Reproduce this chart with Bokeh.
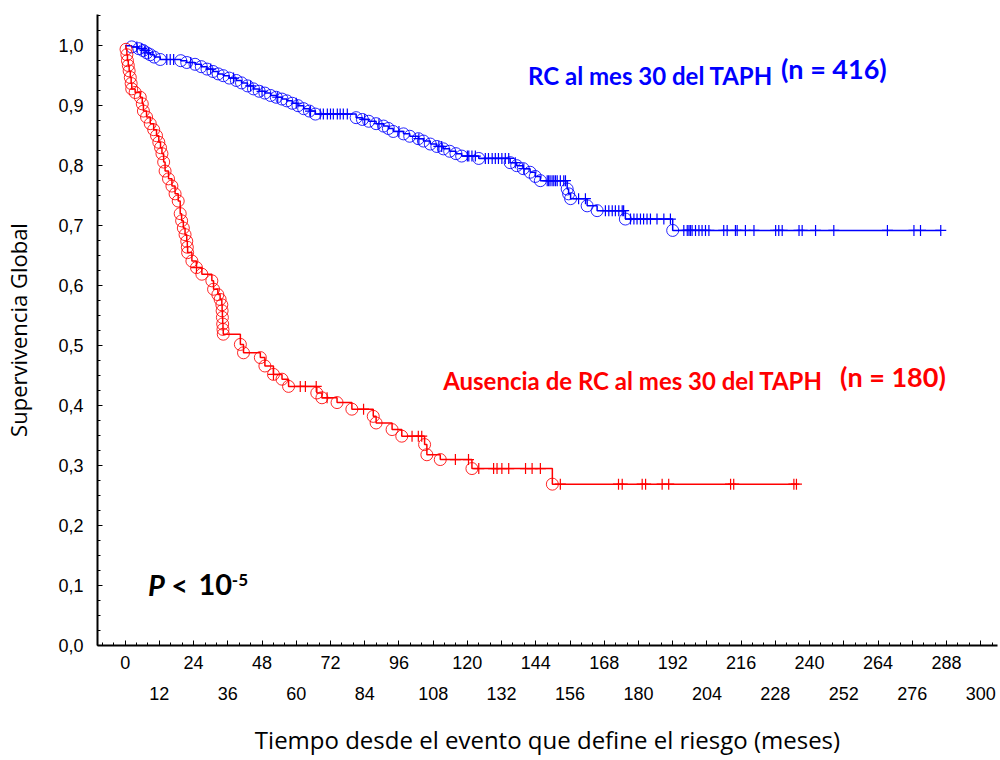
import bisect
from bokeh.plotting import figure
from bokeh.models import FixedTicker, LinearAxis, Label, Range1d
from bokeh.embed import file_html
from bokeh.resources import INLINE

# ---------------- data ----------------
blue_event_t = [2.3, 4.8, 6.3, 7.6, 8.8, 10.2, 12.3, 19.5, 21.6, 24.5, 26.7, 28.7, 30.8, 32.6, 34.4,
                36.5, 39.0, 40.8, 42.9, 45.0, 47.0, 49.0, 51.0, 53.0, 55.0, 56.7, 58.6, 60.6, 62.6,
                64.6, 66.7, 81.0, 83.2, 85.4, 88.0, 90.6, 92.3, 94.0, 97.6, 99.8, 102.8, 104.6, 107.0,
                109.3, 111.6, 113.8, 116.0, 118.0, 124.0, 135.0, 137.3, 139.6, 142.0, 143.8, 145.6,
                155.0, 155.5, 156.2, 162.0, 165.5, 175.4, 192.0]
blue_event_s = [0.998, 0.995, 0.992, 0.988, 0.985, 0.981, 0.977, 0.975, 0.972, 0.969, 0.965, 0.961,
                0.957, 0.953, 0.950, 0.946, 0.942, 0.938, 0.933, 0.928, 0.924, 0.921, 0.917, 0.914,
                0.911, 0.908, 0.904, 0.900, 0.895, 0.891, 0.886, 0.880, 0.877, 0.874, 0.870, 0.866,
                0.862, 0.857, 0.853, 0.849, 0.845, 0.841, 0.836, 0.832, 0.828, 0.824, 0.820, 0.816,
                0.812, 0.805, 0.800, 0.795, 0.789, 0.782, 0.775, 0.761, 0.753, 0.745, 0.733, 0.725,
                0.711, 0.692]
blue_cens_t = [4.1, 5.8, 7.0, 8.2, 14.6, 15.8, 17.0, 23.0, 30.0, 38.0, 44.0, 48.0, 53.5, 60.0, 65.0,
               68.4, 69.5, 70.9, 72.0, 73.0, 74.4, 75.4, 76.5, 77.9, 84.0, 89.0, 96.0, 103.0, 110.0,
               111.0, 120.0, 120.5, 121.6, 122.8, 126.3, 127.4, 128.7, 129.8, 130.9, 132.1, 133.3,
               134.5, 136.8, 139.8, 148.0, 148.5, 149.0, 149.7, 150.3, 150.9, 151.5, 152.6, 153.8,
               154.4, 159.0, 161.4, 168.4, 169.6, 170.8, 171.9, 173.1, 174.3, 174.8, 177.2, 178.4,
               179.5, 180.7, 181.8, 183.0, 184.2, 186.5, 188.9, 191.2, 195.9, 197.1, 197.7, 198.2,
               198.8, 200.0, 201.2, 202.3, 203.5, 204.7, 209.9, 211.1, 214.0, 214.6, 217.5, 220.5,
               228.1, 229.2, 230.4, 236.3, 237.4, 242.1, 248.5, 267.3, 276.6, 278.9, 286.0]

red_event_t = [0.3, 0.6, 0.8, 1.1, 1.4, 1.8, 2.1, 2.3, 3.5, 5.3, 6.0, 6.4, 7.5, 8.8, 10.0, 11.0, 11.8,
               12.4, 12.9, 13.5, 14.0, 15.2, 16.4, 17.5, 18.6, 19.3, 19.8, 20.4, 21.0, 21.6, 21.8,
               21.9, 23.4, 25.0, 26.9, 30.4, 31.0, 32.5, 33.3, 33.9, 34.0, 34.1, 34.2, 34.3, 34.4,
               40.4, 41.5, 47.4, 49.0, 52.0, 55.0, 57.3, 67.2, 69.0, 74.3, 79.5, 87.0, 88.0, 93.6,
               97.0, 105.0, 105.8, 110.5, 121.6, 149.8]
red_event_s = [0.994, 0.985, 0.975, 0.967, 0.958, 0.947, 0.937, 0.928, 0.922, 0.914, 0.903, 0.891,
               0.881, 0.870, 0.860, 0.850, 0.839, 0.830, 0.820, 0.806, 0.791, 0.778, 0.766, 0.753,
               0.741, 0.720, 0.708, 0.696, 0.685, 0.674, 0.664, 0.655, 0.641, 0.630, 0.619, 0.608,
               0.594, 0.585, 0.577, 0.568, 0.558, 0.547, 0.536, 0.527, 0.519, 0.502, 0.488, 0.480,
               0.466, 0.452, 0.444, 0.432, 0.421, 0.413, 0.405, 0.394, 0.382, 0.371, 0.360, 0.349,
               0.335, 0.318, 0.310, 0.295, 0.269]
red_cens_t = [25.0, 52.0, 61.4, 63.2, 67.0, 70.8, 83.6, 100.6, 102.8, 104.0, 115.8, 120.4, 124.0,
              129.2, 130.4, 132.1, 134.5, 140.4, 142.7, 145.6, 152.6, 173.0, 174.3, 181.3, 182.5,
              188.3, 190.6, 212.3, 213.4, 234.5, 235.4]

x_ticks = list(range(0, 301, 12))
x_ticks_top = x_ticks[0::2]
x_ticks_bottom = x_ticks[1::2]
x_minor = list(range(-8, 305, 4))
y_ticks = [0.0, 0.1, 0.2, 0.3, 0.4, 0.5, 0.6, 0.7, 0.8, 0.9, 1.0]
y_labels = ["0,0", "0,1", "0,2", "0,3", "0,4", "0,5", "0,6", "0,7", "0,8", "0,9", "1,0"]
y_minor = [i * 0.025 for i in range(0, 43)]

BLUE = "#0000ff"
RED = "#ff0000"


def surv_at(ev_t, ev_s, t):
    i = bisect.bisect_right(ev_t, t)
    return 1.0 if i == 0 else ev_s[i - 1]


def step_xy(ev_t, ev_s, cens_t):
    end = max(max(cens_t), ev_t[-1])
    return [0.0] + ev_t + [end], [1.0] + ev_s + [ev_s[-1]]


# ---------------- figure ----------------
p = figure(width=1000, height=760, output_backend="svg", toolbar_location=None,
           x_range=Range1d(-9.7, 305.9), y_range=Range1d(0.0, 1.052),
           min_border_left=97, min_border_right=3, min_border_top=14, min_border_bottom=115,
           background_fill_color="white", border_fill_color="white")
p.outline_line_color = None
p.grid.visible = False

for ev_t, ev_s, cens_t, col in [(blue_event_t, blue_event_s, blue_cens_t, BLUE),
                                (red_event_t, red_event_s, red_cens_t, RED)]:
    sx, sy = step_xy(ev_t, ev_s, cens_t)
    p.step(sx, sy, mode="after", line_color=col, line_width=1.5)
    cy = [surv_at(ev_t, ev_s, t) for t in cens_t]
    p.scatter(cens_t, cy, marker="cross", size=11, line_color=col, line_width=1.2)
    p.scatter(ev_t, ev_s, marker="circle", size=12, line_color=col, line_width=1,
              fill_color=None, line_alpha=0.85)

# y axis
ya = p.yaxis[0]
ya.ticker = FixedTicker(ticks=y_ticks, minor_ticks=y_minor)
ya.major_label_overrides = {t: l for t, l in zip(y_ticks, y_labels)}
ya.axis_label = "Supervivencia Global"
ya.axis_label_text_font = "Open Sans"
ya.axis_label_text_font_size = "22px"
ya.axis_label_text_font_style = "normal"
ya.axis_label_text_color = "black"
ya.axis_label_standoff = 22
ya.major_label_text_font = "Liberation Sans"
ya.major_label_text_font_size = "18px"
ya.major_label_text_color = "black"
ya.major_label_standoff = 14
ya.axis_line_width = 2
ya.axis_line_color = "black"
ya.major_tick_line_color = "black"
ya.minor_tick_line_color = "black"
ya.major_tick_in = 5
ya.major_tick_out = 0
ya.minor_tick_in = 3
ya.minor_tick_out = 0

# x axis (top row of labels)
xa = p.xaxis[0]
xa.ticker = FixedTicker(ticks=x_ticks, minor_ticks=x_minor)
xa.major_label_overrides = {t: ("" if t in x_ticks_bottom else str(t)) for t in x_ticks}
xa.major_label_text_font = "Liberation Sans"
xa.major_label_text_font_size = "18px"
xa.major_label_text_color = "black"
xa.major_label_standoff = 10
xa.axis_line_width = 2
xa.axis_line_color = "black"
xa.major_tick_line_color = "black"
xa.minor_tick_line_color = "black"
xa.major_tick_in = 5
xa.major_tick_out = 0
xa.minor_tick_in = 3
xa.minor_tick_out = 0

# x axis (second row of labels)
xb = LinearAxis(ticker=FixedTicker(ticks=x_ticks_bottom, minor_ticks=[]))
xb.axis_line_color = None
xb.major_tick_line_color = None
xb.minor_tick_line_color = None
xb.major_label_text_font = "Liberation Sans"
xb.major_label_text_font_size = "18px"
xb.major_label_text_color = "black"
xb.major_label_standoff = 9
xb.axis_label = "Tiempo desde el evento que define el riesgo (meses)"
xb.axis_label_text_font = "Open Sans"
xb.axis_label_text_font_size = "24px"
xb.axis_label_text_font_style = "normal"
xb.axis_label_text_color = "black"
xb.axis_label_standoff = 20
p.add_layout(xb, "below")


# annotations
def add_label(x, y, text, color, size, style="bold", font="Lato"):
    p.add_layout(Label(x=x, y=y, text=text, text_color=color, text_font=font,
                       text_font_size=size, text_font_style=style,
                       text_baseline="middle", text_align="left"))


add_label(141.3, 0.950, "RC al mes 30 del TAPH", BLUE, "24px")
add_label(230.0, 0.962, "(n = 416)", BLUE, "27px")
add_label(111.5, 0.442, "Ausencia de RC al mes 30 del TAPH", RED, "24px")
add_label(250.7, 0.448, "(n = 180)", RED, "27px")
add_label(8.0, 0.102, "P", "black", "29px", "bold italic")
add_label(16.2, 0.102, "<", "black", "29px")
add_label(25.7, 0.102, "10", "black", "29px")
add_label(37.4, 0.110, "-5", "black", "17px")

open("out.html", "w").write(file_html(p, INLINE))
